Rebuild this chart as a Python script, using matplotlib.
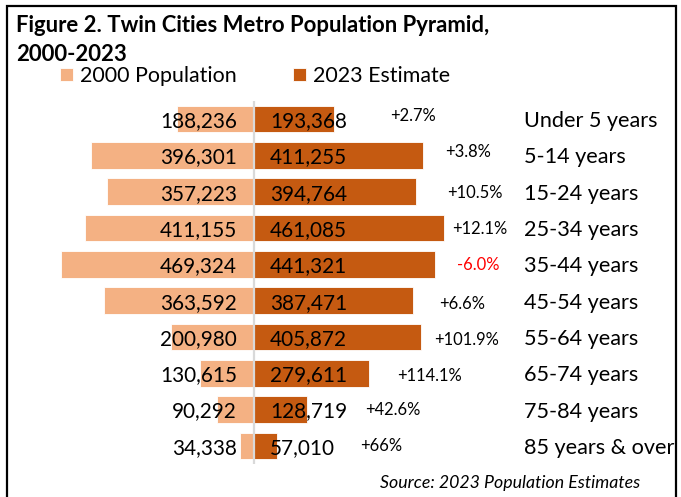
import matplotlib
matplotlib.use("Agg")
import matplotlib.pyplot as plt
from matplotlib.transforms import blended_transform_factory
from matplotlib.patches import Rectangle

# ---------------- data ----------------
categories = ["Under 5 years", "5-14 years", "15-24 years", "25-34 years", "35-44 years",
              "45-54 years", "55-64 years", "65-74 years", "75-84 years", "85 years & over"]
pop_2000 = [188236, 396301, 357223, 411155, 469324, 363592, 200980, 130615, 90292, 34338]
pop_2023 = [193368, 411255, 394764, 461085, 441321, 387471, 405872, 279611, 128719, 57010]
pct_change = ["+2.7%", "+3.8%", "+10.5%", "+12.1%", "-6.0%", "+6.6%", "+101.9%",
              "+114.1%", "+42.6%", "+66%"]

# ---------------- layout (pixels) ----------------
W, H = 681, 497
pct_x_px = [390, 445, 447, 452, 457, 439, 434, 397, 365, 360]
pct_dy_px = [-5, -5, 0, -1, -1, 2, 2, 1, -1, -1]
FONT = "Lato"

C2000 = "#F4B183"
C2023 = "#C55A11"

fig = plt.figure(figsize=(W / 100, H / 100), dpi=100)
renderer = fig.canvas.get_renderer()


def fit_size(text, target_px, **kw):
    t = fig.text(0, 0, text, fontsize=10, family=FONT, **kw)
    w = t.get_window_extent(renderer).width
    t.remove()
    return 10 * target_px / w


fs_val = fit_size("188,236", 77)
fs_cat = fit_size("Under 5 years", 134)
fs_pct = fit_size("+101.9%", 65)
fs_title = fit_size("Figure 2. Twin Cities Metro Population Pyramid,", 473, weight="bold")
fs_leg = fit_size("2000 Population", 157)
fs_src = fit_size("Source: 2023 Population Estimates", 260, style="italic")

# axes geometry
L, R = 40, 520
top, bottom = 101, 464
center = 254
ppl_per_px = 2432.0
ax = fig.add_axes([L / W, (H - bottom) / H, (R - L) / W, (bottom - top) / H])
ax.set_xlim(-(center - L) * ppl_per_px, (R - center) * ppl_per_px)
n = len(categories)
ax.set_ylim(n - 0.5, -0.5)
ax.axis("off")
row_px = (bottom - top) / n

y = list(range(n))
b1 = ax.barh(y, [-v for v in pop_2000], height=0.735, color=C2000, label="2000 Population",
             edgecolor="white", linewidth=0.6)
b2 = ax.barh(y, pop_2023, height=0.735, color=C2023, label="2023 Estimate",
             edgecolor="white", linewidth=0.6)
ax.axvline(0, color="#D9D9D9", lw=1.6, zorder=3)

for i in range(n):
    ax.annotate(f"{pop_2000[i]:,}", xy=(0, i), xytext=(-17 * 0.72, 0), textcoords="offset points",
                ha="right", va="center_baseline", fontsize=fs_val, family=FONT, zorder=4)
    ax.annotate(f"{pop_2023[i]:,}", xy=(0, i), xytext=(16 * 0.72, 0), textcoords="offset points",
                ha="left", va="center_baseline", fontsize=fs_val, family=FONT, zorder=4)

bt = blended_transform_factory(fig.transFigure, ax.transData)
for i in range(n):
    col = "#FF0000" if pct_change[i].startswith("-") else "black"
    ax.text(pct_x_px[i] / W, i + pct_dy_px[i] / row_px, pct_change[i], transform=bt,
            ha="left", va="center_baseline", fontsize=fs_pct, family=FONT, color=col)
    ax.text(524 / W, i, categories[i], transform=bt, ha="left", va="center_baseline",
            fontsize=fs_cat, family=FONT)

# title
fig.text(16.5 / W, 1 - 32 / H, "Figure 2. Twin Cities Metro Population Pyramid,",
         fontsize=fs_title, weight="bold", family=FONT, va="baseline", ha="left")
fig.text(16.5 / W, 1 - 61 / H, "2000-2023",
         fontsize=fs_title, weight="bold", family=FONT, va="baseline", ha="left")

# legend
leg = ax.legend(handles=[b1, b2], loc="upper left", bbox_to_anchor=(60 / W, 1 - 66 / H),
                bbox_transform=fig.transFigure, ncol=2, frameon=False, handlelength=0.6,
                handleheight=0.6, handletextpad=0.35, columnspacing=2.6, borderpad=0,
                borderaxespad=0, prop={"family": FONT, "size": fs_leg})

# source
fig.text(640 / W, 1 - 488 / H, "Source: 2023 Population Estimates", fontsize=fs_src,
         style="italic", family=FONT, ha="right", va="baseline")

# border
fig.add_artist(Rectangle((7 / W, -0.05), (676 - 7) / W, 1.05 - 5.5 / H, fill=False,
                         edgecolor="black", lw=1.6, transform=fig.transFigure, clip_on=False))

fig.savefig("out.png", dpi=100)
